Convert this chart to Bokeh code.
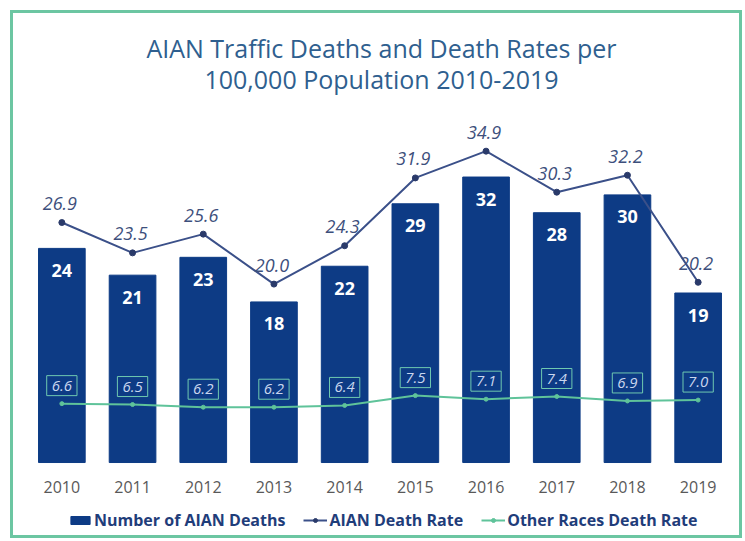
from bokeh.plotting import figure
from bokeh.models import ColumnDataSource, FactorRange, Range1d, Legend, LegendItem, Label
from bokeh.layouts import column
from bokeh.core.properties import value
from bokeh.embed import file_html
from bokeh.resources import INLINE

years = ["2010", "2011", "2012", "2013", "2014", "2015", "2016", "2017", "2018", "2019"]
deaths = [24, 21, 23, 18, 22, 29, 32, 28, 30, 19]
aian_rate = [26.9, 23.5, 25.6, 20.0, 24.3, 31.9, 34.9, 30.3, 32.2, 20.2]
other_rate = [6.6, 6.5, 6.2, 6.2, 6.4, 7.5, 7.1, 7.4, 6.9, 7.0]
title_lines = ["AIAN Traffic Deaths and Death Rates per", "100,000 Population 2010-2019"]

src = ColumnDataSource(dict(
    x=years, deaths=deaths, aian=aian_rate, other=other_rate,
    deaths_t=[str(v) for v in deaths],
    aian_t=["%.1f" % v for v in aian_rate],
    other_t=["%.1f" % v for v in other_rate],
))

FONT = "Open Sans"
BAR = "#0d3b85"
AIAN = "#3b5089"
OTHER = "#5fc39a"
W, H = 726, 522

p = figure(x_range=FactorRange(*years, range_padding=0), y_range=Range1d(-8.18, 50.33),
           width=W, height=H, output_backend="svg", toolbar_location=None,
           x_axis_location=None, y_axis_location=None,
           min_border_left=13, min_border_right=6,
           min_border_top=0, min_border_bottom=0)
p.outline_line_color = None
p.grid.visible = False
p.background_fill_color = "white"
p.border_fill_color = "white"

# two-line title, placed in screen units from the frame's bottom-left
for txt, sy in zip(title_lines, [488, 457]):
    p.add_layout(Label(x=355, y=sy, x_units="screen", y_units="screen", text=txt,
                       text_align="center", text_baseline="middle",
                       text_font=FONT, text_font_size="25px", text_color="#2f5f8f"))

bars = p.vbar(x="x", top="deaths", width=0.66, source=src, color=BAR)
p.text(x="x", y="deaths", text="deaths_t", source=src, text_align="center",
       text_baseline="middle", y_offset=22, text_color="white",
       text_font=value(FONT), text_font_size="18px", text_font_style="bold")

# category labels under the bars (the x axis)
p.text(x="x", y=0, text="x", source=src, text_align="center",
       text_baseline="middle", y_offset=24, text_color="#595959",
       text_font=value(FONT), text_font_size="16px")

l1 = p.line(x="x", y="aian", source=src, line_color=AIAN, line_width=2)
s1 = p.scatter(x="x", y="aian", source=src, size=6, color="#2a3a6a")
p.text(x="x", y="aian", text="aian_t", source=src, text_align="center",
       text_baseline="middle", y_offset=-19, x_offset=-2, text_color="#3d4f7c",
       text_font=value(FONT), text_font_size="18px", text_font_style="italic")

l2 = p.line(x="x", y="other", source=src, line_color=OTHER, line_width=2)
s2 = p.scatter(x="x", y="other", source=src, size=4, color=OTHER)
p.text(x="x", y="other", text="other_t", source=src, text_align="center",
       text_baseline="middle", y_offset=-18, text_color="#c9d6ee",
       text_font=value(FONT), text_font_size="15px", text_font_style="italic",
       border_line_color="#6fc9b0", border_line_width=1, padding=5)

legend = Legend(items=[
    LegendItem(label="Number of AIAN Deaths", renderers=[bars]),
    LegendItem(label="AIAN Death Rate", renderers=[l1, s1]),
    LegendItem(label="Other Races Death Rate", renderers=[l2, s2]),
], orientation="horizontal", location=(42, 4), border_line_color=None,
   background_fill_alpha=0, label_text_font=FONT, label_text_font_size="16px",
   label_text_font_style="bold", label_text_color="#1f3d7a",
   glyph_width=24, glyph_height=10, spacing=18, padding=0, margin=0,
   label_standoff=2)
p.add_layout(legend, "center")

layout = column(p, styles={"border": "3px solid #6cc6a2", "margin": "10px 0 0 10px"})
open("out.html", "w").write(file_html(layout, INLINE))
